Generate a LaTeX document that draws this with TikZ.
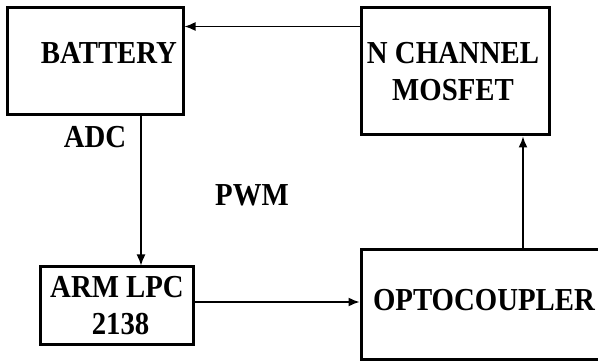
\documentclass[tikz,border=0pt]{standalone}
\usepackage{fontspec}
\setmainfont{Liberation Serif}[FakeStretch=0.9]
\usetikzlibrary{arrows.meta}

\tikzset{
  blockbox/.style={draw,line width=3pt,inner sep=0pt},
  blocktext/.style={font=\bfseries\fontsize{32}{37}\selectfont,align=center,inner sep=0pt},
  flow/.style={line width=1.5pt,-{Latex[length=11pt,width=9pt]}}
}

\begin{document}
\begin{tikzpicture}[x=1pt,y=-1pt]
  \useasboundingbox (0,0) rectangle (598,363);
  \clip (0,0) rectangle (598,363);

  % Blocks of the drive.
  \node[blockbox,minimum width=176pt,minimum height=107pt] (battery) at (95,61.5) {};
  \node[blockbox,minimum width=188pt,minimum height=127pt] (mosfet) at (455,71.5) {};
  \node[blockbox,minimum width=153pt,minimum height=78pt] (arm) at (116.5,306) {};
  \node[blockbox,minimum width=240pt,minimum height=110pt] (opto) at (481,305) {};

  % Texts of the blocks.
  \node[blocktext] (batterytext) at (109,53) {BATTERY};
  \node[blocktext] (mosfettext) at (453,71.5) {N CHANNEL\\MOSFET};
  \node[blocktext] (armtext) at (117,306) {ARM LPC\\\ 2138};
  \node[blocktext] (optotext) at (484,300) {OPTOCOUPLER};

  % Signal labels.
  \node[blocktext] (adc) at (95,137) {ADC};
  \node[blocktext] (pwm) at (252,195) {PWM};

  % Connectors.
  \draw[flow] ([xshift=46pt]battery.south) -- ([xshift=46pt]battery.south |- arm.north);
  \draw[flow] ([yshift=4pt]arm.east) -- ([yshift=4pt]arm.east -| opto.west);
  \draw[flow] ([xshift=42pt]opto.north) -- ([xshift=42pt]opto.north |- mosfet.south);
  \draw[flow] ([yshift=45pt]mosfet.west) -- ([yshift=45pt]mosfet.west -| battery.east);
\end{tikzpicture}
\end{document}
